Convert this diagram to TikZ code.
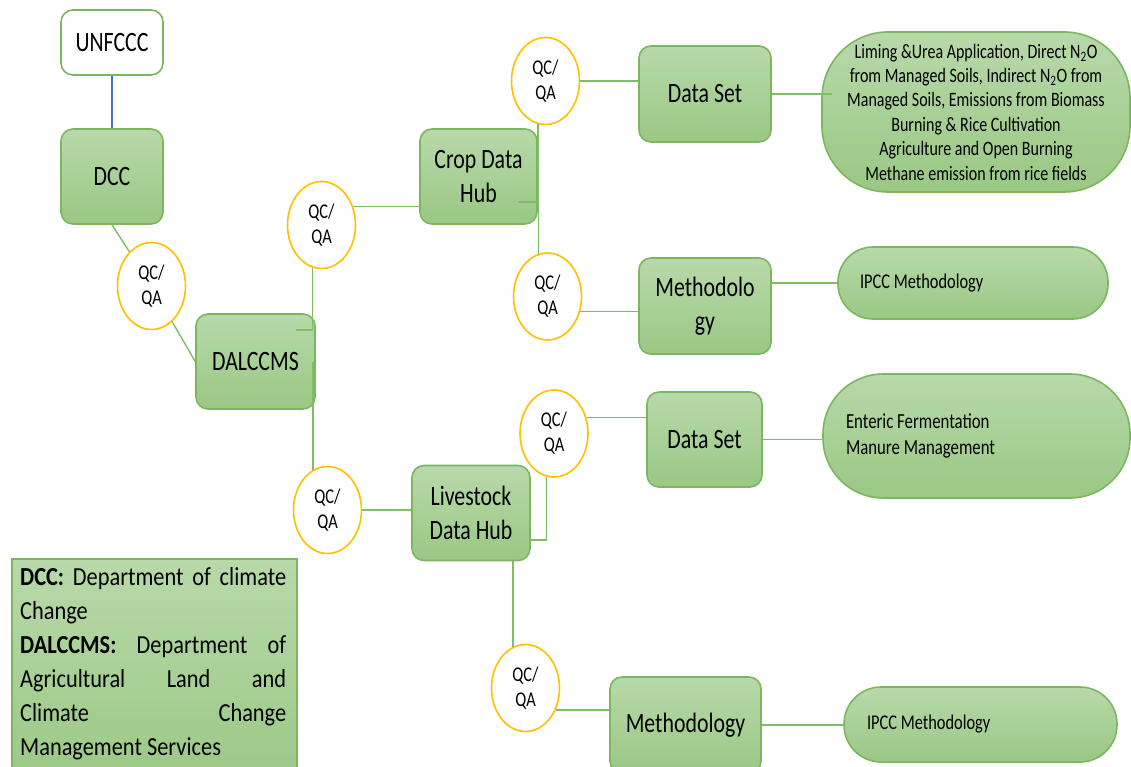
\documentclass[tikz,border=0pt]{standalone}
\usepackage{fontspec}
\setmainfont{Carlito}[FakeStretch=0.78]
\newfontfamily\keyfont{Carlito}[FakeStretch=0.86]
\usetikzlibrary{shapes.geometric}

\definecolor{boxtop}{RGB}{184,217,170}
\definecolor{boxbot}{RGB}{154,200,132}
\definecolor{boxline}{RGB}{124,182,96}
\definecolor{wire}{RGB}{128,189,100}
\definecolor{qcring}{RGB}{255,192,0}
\definecolor{unline}{RGB}{68,114,196}

\newcommand{\hubsize}{\fontsize{28}{34.5}\selectfont}
\newcommand{\qcsize}{\fontsize{21}{25}\selectfont}
\newcommand{\notesize}{\fontsize{20.5}{24.4}\selectfont}

\begin{document}
\begin{tikzpicture}[x=1pt,y=-1pt,
  greenbox/.style={draw=boxline, line width=1.6pt, rounded corners=12pt,
    top color=boxtop, bottom color=boxbot, inner sep=0pt,
    align=center, font=\hubsize},
  pillbox/.style={draw=boxline, line width=1.6pt,
    top color=boxtop, bottom color=boxbot, inner sep=0pt, font=\notesize},
  qc/.style={ellipse, draw=qcring, line width=1.6pt, fill=white,
    minimum width=68pt, minimum height=87pt, inner sep=0pt,
    align=center, font=\qcsize},
  link/.style={draw=wire, line width=1.4pt}
]
\useasboundingbox (0,0) rectangle (1131,767);

% ---- top of the chain ----
\node[greenbox, fill=white, top color=white, bottom color=white,
      minimum width=102pt, minimum height=65pt] (unf) at (112,42.5) {UNFCCC};
\node[greenbox, minimum width=102pt, minimum height=95pt] (dcc) at (112,176.5) {DCC};
\node[qc] (q1) at (151.5,286) {QC/\\QA};
\node[greenbox, minimum width=119pt, minimum height=95pt] (dal) at (255.5,361.5) {DALCCMS};

% ---- crop branch ----
\node[qc] (q2) at (321.5,225) {QC/\\QA};
\node[greenbox, minimum width=117pt, minimum height=95pt] (crop) at (478.5,176.5) {Crop Data\\Hub};
\node[qc] (q3) at (545.5,81) {QC/\\QA};
\node[greenbox, minimum width=132pt, minimum height=96pt] (ds1) at (705,94) {Data Set};
\node[pillbox, rounded corners=66pt, minimum width=308pt, minimum height=160pt,
      align=center] (big1) at (976,112)
 {Liming \&Urea Application, Direct N\textsubscript{2}O\\
  from Managed Soils, Indirect N\textsubscript{2}O from\\
  Managed Soils, Emissions from Biomass\\
  Burning \& Rice Cultivation\\
  Agriculture and Open Burning\\
  Methane emission from rice fields};
\node[qc] (q5) at (547.5,296.5) {QC/\\QA};
\node[greenbox, minimum width=132pt, minimum height=96pt] (meth1) at (705,306) {Methodolo\\gy};
\node[pillbox, rounded corners=35pt, minimum width=270pt, minimum height=72pt,
      font=\fontsize{21}{25}\selectfont] (ipcc1) at (973,283)
 {\hbox to 226pt{IPCC Methodology\hfil}};

% ---- livestock branch ----
\node[qc] (q4) at (327.5,510) {QC/\\QA};
\node[greenbox, minimum width=118pt, minimum height=95pt] (live) at (471,513) {Livestock\\Data Hub};
\node[qc] (q6) at (554,433.5) {QC/\\QA};
\node[greenbox, minimum width=115pt, minimum height=95pt] (ds2) at (704.5,439.5) {Data Set};
\node[pillbox, rounded corners=60pt, minimum width=307pt, minimum height=124pt,
      align=left, font=\fontsize{21.5}{26}\selectfont] (big2) at (976.5,436)
 {\hbox to 261pt{Enteric Fermentation\hfil}\\\hbox to 261pt{Manure Management\hfil}};
\node[qc] (q7) at (525.5,688) {QC/\\QA};
\node[greenbox, minimum width=151pt, minimum height=96pt] (meth2) at (685.5,725) {Methodology};
\node[pillbox, rounded corners=37pt, minimum width=273pt, minimum height=75pt,
      font=\fontsize{21}{25}\selectfont] (ipcc2) at (980.5,724.5)
 {\hbox to 227pt{IPCC Methodology\hfil}};

% ---- abbreviation key ----
\node[draw=boxline, line width=1.6pt, top color=boxtop, bottom color=boxbot,
      minimum width=285pt, minimum height=230pt, anchor=north west, inner sep=0pt]
      (key) at (11,558) {};
\node[anchor=north west, inner sep=0pt, align=left,
      font=\keyfont\fontsize{26}{34}\selectfont] (keytext) at (20,567)
 {\hbox to 266pt{\textbf{DCC:}\hfill Department\hfill of\hfill climate}\\
  Change\\
  \hbox to 266pt{\textbf{DALCCMS:}\hfill Department\hfill of}\\
  \hbox to 266pt{Agricultural\hfill Land\hfill and}\\
  \hbox to 266pt{Climate\hfill Change}\\
  Management Services};

% ---- connectors ----
\draw[draw=unline, line width=1.2pt] (unf.south) -- (dcc.north);
\draw[link] (dcc.south) -- (q1);
\draw[link] (q1) -- (dal.west);

\coordinate (dalTick) at (296,330);
\draw[link] (dalTick) -| (q2.258.7);
\draw[link] (q4.110) -- (q4.110 |- dal.east);
\draw[link] (q2.30) -- (q2.30 -| crop.west);

\coordinate (cropTick) at (518,202);
\draw[link] (cropTick) -| (q3.260);
\draw[link] (q5.102.8) -- (q5.102.8 |- crop.east);
\draw[link] (q3.east) -- (q3.east -| ds1.west);
\draw[link] (ds1.east) -- ++(60,0);
\draw[link] (q5.335) -- (q5.335 -| meth1.west);
\draw[link] (ipcc1.west) -- (ipcc1.west -| meth1.east);

\draw[link] (q4.east) -- (q4.east -| live.west);
\coordinate (liveOut) at (530,540);
\draw[link] (liveOut) -| (q6.260.7);
\draw[link] (q6.26) -- (q6.26 -| ds2.west);
\draw[link] (ds2.east) -- (ds2.east -| big2.west);
\draw[link] (q7.107) -- (q7.107 |- live.south);
\draw[link] (q7.324) -- (q7.324 -| meth2.west);
\draw[link] (meth2.east) -- (meth2.east -| ipcc2.west);
\end{tikzpicture}
\end{document}
